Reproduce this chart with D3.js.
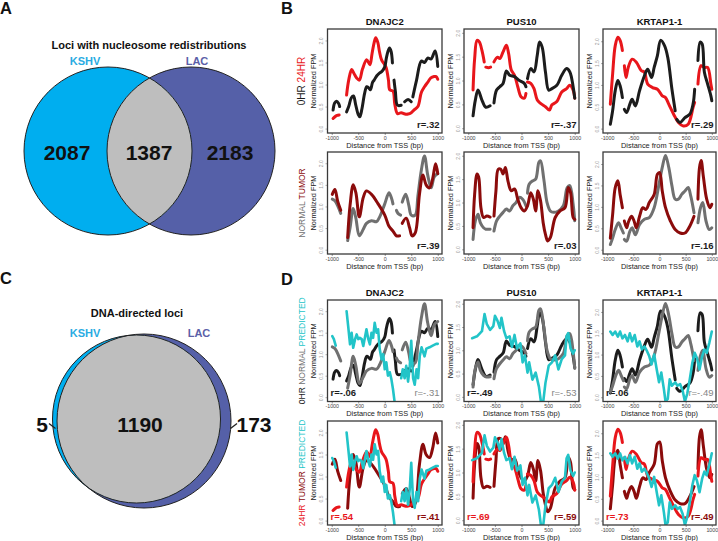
<!DOCTYPE html>
<html><head><meta charset="utf-8">
<script src="https://cdn.jsdelivr.net/npm/d3@7"></script>
<style>body{margin:0;background:#fff} svg{display:block;font-family:"Liberation Sans",Arial,sans-serif}</style>
</head><body><svg id="c" width="718" height="541"></svg>
<script>
// ---------------- DATA ----------------
const vennA = {title:"Loci with nucleosome redistributions", kshvOnly:2087, both:1387, lacOnly:2183};
const vennCTitle = "DNA-directed loci";
const vennCCounts = [5, 1190, 173];
const setNames = ["KSHV","LAC"];

const genes = ["DNAJC2","PUS10","KRTAP1-1"];
const xTicks = [-1000,-500,0,500,1000];
const yTicks = [0,0.5,1,1.5,2];
const yMaxByGene = [2.26, 2.08, 2.28];

// [bp, normalized FPM]; null = gap (no data)
const DNAJC2_0HR = [[-975,.42],[-945,.58],[-910,.62],[-870,.57],[-850,.5],null,
 [-720,.38],[-680,.5],[-630,.7],[-590,.74],[-550,.55],[-500,.32],[-470,.27],[-430,.45],[-380,.8],[-340,.95],[-300,.92],[-270,.88],[-230,1.05],[-200,1.1],[-150,1.2],[-100,1.26],[-50,1.3],[0,1.4],[30,1.6],[60,1.75],[90,1.83],[120,1.75],[145,1.49],null,
 [175,1.1],[200,.85],[240,.53],[310,.53],null,
 [375,.61],[440,.66],[500,.61],null,
 [530,.72],[600,1.1],[690,1.53],[750,1.5],[810,1.6],[875,1.58],[950,1.76],[1000,1.41]];
const DNAJC2_24HR = [[-975,.23],[-940,.27],[-900,.3],[-860,.31],null,
 [-720,.76],[-680,1.1],[-625,1.34],[-580,1.25],[-530,1.15],[-480,1.1],[-420,1.35],[-340,1.56],[-280,1.45],[-240,1.7],[-200,1.95],[-170,2.06],[-130,1.95],[-100,1.75],[-60,1.56],[0,1.45],[30,1.37],[70,1.1],[95,.88],[155,.85],[190,.55],[240,.34],[310,.36],[380,.33],[440,.33],[500,.36],[560,.43],[625,.5],[690,.82],[750,.95],[810,1.05],[870,1.15],[930,1.18],[970,1.18],[1000,1.12]];
const DNAJC2_NORMAL = [[-990,1.17],[-940,1.13],[-875,.98],[-830,.84],null,
 [-700,.21],[-655,.5],[-595,.95],[-545,.73],[-480,.32],[-405,.47],[-345,.61],[-250,.67],[-155,.65],[-95,.76],[0,1.06],[80,1.32],[125,1.2],[155,1.06],null,
 [220,.91],[250,.84],[300,.8],null,
 [330,1.1],[395,1.28],[455,1.02],[500,.8],[575,.8],[625,1.24],[690,1.84],[750,2.17],[810,1.73],[875,1.43],[935,1.69],[1000,1.76]];
const DNAJC2_TUMOR = [[-990,1.28],[-940,1.39],[-890,1.13],[-830,.91],null,
 [-700,.28],[-655,1.02],[-595,1.5],[-545,1.32],[-480,.76],[-405,1.21],[-345,1.36],[-250,1.28],[-125,1.06],[0,.8],[80,.54],[155,.43],[220,.32],[280,.32],null,
 [330,.61],[405,.73],[470,.5],[515,.32],[575,.39],[655,1.28],[720,1.73],[780,1.5],[845,1.43],[905,1.65],[960,1.99],[1000,1.76]];
const DNAJC2_PREDICTED = [[-990,1.42],[-960,1.35],[-925,1.2],null,
 [-720,2.0],[-690,1.65],[-655,1.23],[-625,1.5],[-595,1.15],[-560,1.35],[-530,1.46],[-500,1.35],[-470,1.38],[-435,1.35],[-405,1.19],[-375,1.38],[-345,1.58],[-310,1.35],[-280,1.23],[-250,1.5],[-220,1.38],[-190,1.73],[-155,1.5],[-125,1.58],[-95,1.12],[-60,.88],[-30,1.0],[0,.65],[30,.81],[60,.5],[95,.58],[125,.42],[155,.19],[190,-.15],null,
 [310,.44],[340,.65],[375,.44],[405,.73],[440,.36],[470,.69],[500,1.31],[535,.44],[565,.29],[600,.65],[630,.44],[660,.95],[695,1.16],[750,.95],[785,1.13],[845,1.16],[905,1.2],[970,1.24],[1000,1.24]];

const PUS10_0HR = [[-910,.26],[-867,.59],[-817,.8],[-743,.59],[-670,.44],[-590,.47],null,
 [-517,.53],[-468,.8],[-407,.87],[-346,.94],[-284,1.2],[-223,1.11],[-131,1.08],[-40,1.0],[52,.94],[83,.87],null,
 [113,1.04],[174,1.25],[235,1.18],[296,1.53],[339,1.81],[388,1.7],[450,1.18],[511,.8],[572,.83],[664,.9],[756,1.11],[847,1.25],[908,1.18],[970,.87],[1000,.63]];
const PUS10_24HR = [[-910,.8],[-880,1.46],[-835,1.84],[-792,1.81],[-743,1.63],[-700,1.39],null,
 [-670,1.28],[-620,1.27],[-580,1.28],null,
 [-517,1.39],[-450,1.49],[-407,1.46],[-346,1.6],[-284,1.74],[-241,1.56],[-192,1.22],[-131,1.11],[-70,.87],[-9,.66],[52,.63],[83,.73],null,
 [113,.97],[174,.94],[235,.83],[296,.59],[358,.52],[450,.45],[523,.38],[572,.49],[664,.56],[756,.76],[847,.83],[908,.9],[970,.8],[1000,.63]];
const PUS10_NORMAL = [[-910,.21],[-867,.61],[-817,.75],[-774,.57],[-713,.46],[-670,.43],[-590,.43],null,
 [-517,.39],[-468,.61],[-407,.71],[-346,.79],[-284,.86],[-223,.82],[-162,.93],[-101,1.0],[-40,1.11],[21,1.07],[83,.93],null,
 [113,1.2],[144,1.39],[205,1.46],[266,1.5],[327,1.86],[358,1.89],[419,1.5],[480,1.0],[541,.82],[602,.79],[694,.82],[786,.93],[859,1.32],[908,1.36],[970,.96],[1000,.61]];
const PUS10_TUMOR = [[-910,.46],[-880,1.18],[-835,1.61],[-804,1.54],[-762,.89],[-713,.68],[-651,.71],[-590,.69],null,
 [-517,.71],[-480,1.25],[-437,1.71],[-389,1.71],[-346,1.61],[-303,1.75],[-254,1.46],[-192,1.25],[-131,1.29],[-70,1.07],[-9,.89],[52,.82],[113,.93],[174,1.21],[223,1.07],[266,.82],[309,1.25],[358,1.04],[407,.57],[450,.32],[492,.18],[541,.25],[633,.68],[725,.82],[817,.89],[878,1.32],[921,1.21],[970,.68],[1000,.64]];
const PUS10_PREDICTED = [[-927,1.26],[-835,1.3],[-743,1.41],[-694,1.78],[-651,1.56],[-590,1.44],[-529,1.52],[-498,1.74],[-450,1.63],[-407,1.48],[-376,1.7],[-327,1.41],[-284,1.26],[-223,1.3],[-180,1.07],[-131,1.33],[-83,1.04],[-21,1.15],[21,.74],[64,.89],[113,.52],[144,.74],[205,.37],[266,.52],[327,.22],[388,-.3],[450,.3],[511,.67],[572,.74],[633,.89],[694,.59],[756,.81],[817,.89],[847,1.3],[878,1.37],[921,1.04],[970,.93],[1000,1.0]];

const KRTAP_0HR = [[-940,.1],[-896,.41],[-846,.87],[-796,1.1],[-753,.98],[-709,.71],null,
 [-672,.44],[-628,.37],[-567,.56],[-523,.67],[-461,.52],[-381,.87],[-288,1.21],[-226,1.36],[-152,1.17],[-102,1.4],[-40,1.67],[22,2.02],[96,1.9],[158,1.63],[238,.9],[300,.41],null,
 [330,.21],[393,.14],[486,.25],[579,.33],[641,.56],[672,.9],null,
 [735,1.56],[778,1.98],[815,1.94],[858,1.29],[920,1.02],[982,.75],[1000,.64]];
const KRTAP_24HR = [[-940,.56],[-896,1.25],[-846,1.9],[-796,2.09],[-753,2.02],[-709,1.79],null,
 [-672,1.44],[-640,1.17],[-598,1.4],[-523,1.59],[-443,1.52],[-350,1.33],[-288,1.29],[-226,1.02],[-133,.94],[-40,.9],[53,.75],[115,.71],[177,.56],[270,.33],[362,.14],[455,.06],[548,.1],[641,.48],[672,.6],null,
 [735,1.02],[796,1.44],[858,1.4],[920,1.4],[982,1.02],[1000,.9]];
const KRTAP_NORMAL = [[-940,.12],[-896,.27],[-846,.47],[-784,.63],[-734,.51],[-690,.39],null,
 [-672,.24],[-628,.2],[-567,.43],[-523,.51],[-461,.35],[-381,.59],[-288,.71],[-195,.75],[-102,.98],[-9,1.53],[53,1.92],[115,2.2],[177,1.92],[238,1.49],[300,1.18],[362,1.18],[424,1.29],[486,1.37],[548,1.45],[598,1.25],[660,.86],null,
 [735,.63],[784,.98],[827,1.1],[889,.67],[951,.47],[1000,.51]];
const KRTAP_TUMOR = [[-940,.27],[-896,.82],[-846,1.45],[-796,1.61],[-753,1.29],[-709,.98],null,
 [-672,.67],[-628,.51],[-598,.63],[-536,.78],[-486,.67],[-443,.51],[-381,.78],[-319,.98],[-257,.94],[-195,1.1],[-102,1.29],[-40,1.76],[3,1.8],[53,1.37],[115,.98],[208,.67],[300,.47],[393,.39],[486,.39],[579,.55],[660,.78],null,
 [735,1.18],[765,1.92],[796,2.08],[840,1.69],[902,1.18],[964,.98],[1000,1.06]];
const KRTAP_PREDICTED = [[-940,1.54],[-896,1.46],[-846,1.54],[-796,1.42],[-753,1.54],[-709,1.38],[-660,1.46],[-610,1.31],[-567,1.5],[-523,1.31],[-474,1.46],[-424,1.19],[-381,1.31],[-337,1.12],[-288,1.19],[-238,1.08],[-195,.96],[-152,.77],[-102,1.0],[-53,.65],[-9,.35],[34,.58],[84,.19],[115,-.1],[158,-.04],[195,.42],[238,.27],[300,.35],[344,.27],[393,.31],[443,.15],[486,-.1],[530,.08],[579,.42],[628,.81],[672,1.04],[715,.92],[765,.65],[815,.96],[858,1.12],[902,1.04],[951,1.27],[1000,1.54]];

const rB1 = ["r=.32","r=-.37","r=.29"];
const rB2 = ["r=.39","r=.03","r=.16"];
const rD1left = ["r=-.06","r=-.49","r=.06"];
const rD1right = ["r=-.31","r=-.53","r=-.49"];
const rD2left = ["r=.54","r=.69","r=.73"];
const rD2right = ["r=.41","r=.59","r=.49"];

// ---------------- STYLE / LAYOUT ----------------
const C = {black:"#1c1c1c", red:"#e8161b", dred:"#8b0b0b", gray:"#707070", cyan:"#22c4c8",
  kshv:"#00aeef", lac:"#5560a8", inter:"#bebebe", kshvTxt:"#29abe2", lacTxt:"#5b5fa8"};
const series = {
  "0HR":[DNAJC2_0HR,PUS10_0HR,KRTAP_0HR],
  "24HR":[DNAJC2_24HR,PUS10_24HR,KRTAP_24HR],
  "NORMAL":[DNAJC2_NORMAL,PUS10_NORMAL,KRTAP_NORMAL],
  "TUMOR":[DNAJC2_TUMOR,PUS10_TUMOR,KRTAP_TUMOR],
  "PREDICTED":[DNAJC2_PREDICTED,PUS10_PREDICTED,KRTAP_PREDICTED]
};
const colX = [[327.5,442],[464,579],[603,716]];
const rows = [
  {y:[29,133], title:true, draw:[["24HR",C.red],["0HR",C.black]],
   label:[["0HR",C.black],["24HR",C.red]], lsize:10,
   r:[{t:rB1,side:"right",color:C.black,bold:true}]},
  {y:[152,254], title:false, draw:[["NORMAL",C.gray],["TUMOR",C.dred]],
   label:[["NORMAL",C.gray],["TUMOR",C.dred]], lsize:8.5,
   r:[{t:rB2,side:"right",color:C.black,bold:true}]},
  {y:[300,401.5], title:true, draw:[["0HR",C.black],["NORMAL",C.gray],["PREDICTED",C.cyan]],
   label:[["0HR",C.black],["NORMAL",C.gray],["PREDICTED",C.cyan]], lsize:8.5,
   r:[{t:rD1left,side:"left",color:C.black,bold:true},{t:rD1right,side:"right",color:"#858585",bold:false}]},
  {y:[421,525], title:false, draw:[["TUMOR",C.dred],["24HR",C.red],["PREDICTED",C.cyan]],
   label:[["24HR",C.red],["TUMOR",C.dred],["PREDICTED",C.cyan]], lsize:8.5,
   r:[{t:rD2left,side:"left",color:C.red,bold:true},{t:rD2right,side:"right",color:C.dred,bold:true}]}
];

const svg = d3.select("#c");
const defs = svg.append("defs");

// panel letters
[["A",0,14],["B",281,14],["C",0,284],["D",281,285]].forEach(([t,x,y])=>
  svg.append("text").attr("x",x).attr("y",y).attr("font-size",16.5).attr("font-weight","bold").attr("fill","#111").text(t));

// ---------------- VENN A ----------------
function venn(g, k, l, opts){
  defs.append("clipPath").attr("id",opts.id).append("circle").attr("cx",k.cx).attr("cy",k.cy).attr("r",k.r);
  g.append("circle").attr("cx",l.cx).attr("cy",l.cy).attr("r",l.r).attr("fill",C.lac);
  g.append("circle").attr("cx",k.cx).attr("cy",k.cy).attr("r",k.r).attr("fill",C.kshv);
  g.append("circle").attr("cx",l.cx).attr("cy",l.cy).attr("r",l.r).attr("fill",C.inter).attr("clip-path",`url(#${opts.id})`);
  [k,l].forEach(c=>g.append("circle").attr("cx",c.cx).attr("cy",c.cy).attr("r",c.r).attr("fill","none").attr("stroke","#222").attr("stroke-width",1));
}
const gA = svg.append("g");
venn(gA,{cx:108,cy:151,r:84},{cx:191,cy:151,r:84},{id:"clipA"});
gA.append("text").attr("x",149).attr("y",48.5).attr("text-anchor","middle").attr("font-size",11).attr("font-weight","bold").attr("fill","#111").text(vennA.title);
gA.append("text").attr("x",85).attr("y",64.5).attr("text-anchor","middle").attr("font-size",11).attr("font-weight","bold").attr("fill",C.kshvTxt).text(setNames[0]);
gA.append("text").attr("x",197).attr("y",64.5).attr("text-anchor","middle").attr("font-size",11).attr("font-weight","bold").attr("fill",C.lacTxt).text(setNames[1]);
[[vennA.kshvOnly,67],[vennA.both,149],[vennA.lacOnly,230]].forEach(([v,x])=>
  gA.append("text").attr("x",x).attr("y",160).attr("text-anchor","middle").attr("font-size",21).attr("font-weight","bold").attr("fill","#111").text(v));

// ---------------- VENN C ----------------
const gC = svg.append("g");
venn(gC,{cx:136.5,cy:419,r:84},{cx:144,cy:421,r:87},{id:"clipC"});
gC.append("text").attr("x",137).attr("y",316.5).attr("text-anchor","middle").attr("font-size",11).attr("font-weight","bold").attr("fill","#111").text(vennCTitle);
gC.append("text").attr("x",85).attr("y",336.5).attr("text-anchor","middle").attr("font-size",11).attr("font-weight","bold").attr("fill",C.kshvTxt).text(setNames[0]);
gC.append("text").attr("x",199).attr("y",336.5).attr("text-anchor","middle").attr("font-size",11).attr("font-weight","bold").attr("fill",C.lacTxt).text(setNames[1]);
[[vennCCounts[0],42],[vennCCounts[1],140],[vennCCounts[2],254]].forEach(([v,x])=>
  gC.append("text").attr("x",x).attr("y",431.5).attr("text-anchor","middle").attr("font-size",21).attr("font-weight","bold").attr("fill","#111").text(v));
gC.append("line").attr("x1",49).attr("y1",423.5).attr("x2",55.5).attr("y2",428.5).attr("stroke","#222").attr("stroke-width",1.3);
gC.append("line").attr("x1",230.5).attr("y1",428.5).attr("x2",237).attr("y2",423.5).attr("stroke","#222").attr("stroke-width",1.3);

// ---------------- LINE PANELS ----------------
let clipN = 0;
rows.forEach((row,ri)=>{
  const [y0,y1] = row.y;
  // row label
  const lt = svg.append("text").attr("transform",`translate(305,${(y0+y1)/2}) rotate(-90)`)
    .attr("text-anchor","middle").attr("font-size",row.lsize);
  row.label.forEach(([t,c],i)=>lt.append("tspan").attr("fill",c).text((i?" ":"")+t));

  genes.forEach((gene,gi)=>{
    const [x0,x1] = colX[gi];
    const x = d3.scaleLinear().domain([-1080,1080]).range([x0,x1]);
    const y = d3.scaleLinear().domain([-0.1,yMaxByGene[gi]]).range([y1,y0]);
    const g = svg.append("g");
    if(row.title) g.append("text").attr("x",(x0+x1)/2).attr("y",y0-4).attr("text-anchor","middle")
      .attr("font-size",9.5).attr("font-weight","bold").attr("fill","#111").text(gene);

    // axes
    const ax = g.append("g").attr("transform",`translate(0,${y1})`)
      .call(d3.axisBottom(x).tickValues(xTicks).tickSize(2).tickPadding(1.2).tickFormat(d=>String(d)));
    ax.select(".domain").remove();
    ax.selectAll("line").attr("stroke","#555").attr("stroke-width",0.6);
    ax.selectAll("text").attr("font-size",5.3).attr("fill","#444").attr("font-family","Liberation Sans, Arial");
    const ay = g.append("g").attr("transform",`translate(${x0},0)`)
      .call(d3.axisLeft(y).tickValues(yTicks).tickSize(2).tickFormat(d3.format(".1f")));
    ay.select(".domain").remove();
    ay.selectAll("line").attr("stroke","#777").attr("stroke-width",0.6);
    ay.selectAll("text").attr("x",null).attr("dy",null).attr("text-anchor","middle")
      .attr("transform","translate(-4.3,0) rotate(-90)").attr("font-size",5).attr("fill","#9a9a9a").attr("font-family","Liberation Sans, Arial");
    g.append("text").attr("transform",`translate(${x0-11.5},${(y0+y1)/2}) rotate(-90)`).attr("text-anchor","middle")
      .attr("font-size",7.4).attr("fill","#222").text("Normalized FPM");
    g.append("text").attr("x",(x0+x1)/2).attr("y",y1+14.5).attr("text-anchor","middle")
      .attr("font-size",7.4).attr("fill","#222").text("Distance from TSS (bp)");

    // r labels (under lines)
    row.r.forEach(rl=>{
      g.append("text").attr("x",rl.side==="right"?x1-2.5:x0+3).attr("y",y1-5.5)
        .attr("text-anchor",rl.side==="right"?"end":"start").attr("font-size",9.5)
        .attr("font-weight",rl.bold?"bold":"normal").attr("fill",rl.color).text(rl.t[gi]);
    });

    const cid = "pc"+(clipN++);
    defs.append("clipPath").attr("id",cid).append("rect").attr("x",x0).attr("y",y0).attr("width",x1-x0).attr("height",y1-y0);
    const lg = g.append("g").attr("clip-path",`url(#${cid})`);
    row.draw.forEach(([name,color])=>{
      const pred = name==="PREDICTED";
      const line = d3.line().defined(d=>d!==null).x(d=>x(d[0])).y(d=>y(d[1]))
        .curve(pred?d3.curveLinear:d3.curveCatmullRom.alpha(0.5));
      lg.append("path").attr("d",line(series[name][gi])).attr("fill","none").attr("stroke",color)
        .attr("stroke-width",pred?2.6:3).attr("stroke-linecap","round").attr("stroke-linejoin","round");
    });
    g.append("rect").attr("x",x0).attr("y",y0).attr("width",x1-x0).attr("height",y1-y0)
      .attr("fill","none").attr("stroke","#3a3a3a").attr("stroke-width",1.3);
  });
});
</script></body></html>
